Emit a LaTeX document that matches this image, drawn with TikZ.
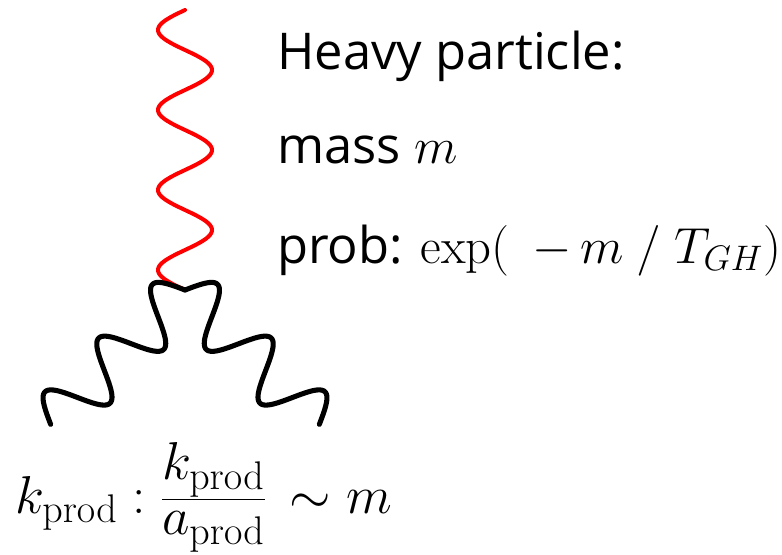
\RequirePackage{fix-cm}
\documentclass[tikz,border=0pt]{standalone}
\usepackage[no-math]{fontspec}
\setmainfont{Open Sans}
\DeclareMathSizes{40}{40}{30}{22}
\begin{document}
\begin{tikzpicture}[x=0.75pt, y=-0.75pt,
    heavy/.style={red, line width=3pt, line cap=round},
    light/.style={black, line width=3.8pt, line cap=round, line join=round},
    txt/.style={anchor=base west, inner sep=0pt, font=\fontsize{38}{46}\selectfont}]
            \useasboundingbox (0,0) rectangle (782,554);

            % Vertice donde se unen las lineas
            \coordinate (vtx) at (185,290);

            % Particula pesada (onda roja)
            \draw[heavy, shift={(vtx)}] plot[domain=0:280, samples=200] ({-27*sin(4.5*\x)}, {\x-280});

            % Particulas producidas (ondas negras)
            \draw[light, shift={(vtx)}] plot[domain=0:190, samples=160]
                ({(-\x-27*sin(4.7368*\x))/sqrt(2)}, {(\x-27*sin(4.7368*\x))/sqrt(2)});
            \draw[light, shift={(vtx)}] plot[domain=0:190, samples=160]
                ({(\x+27*sin(4.7368*\x))/sqrt(2)}, {(\x-27*sin(4.7368*\x))/sqrt(2)});

            % Textos
            \node[txt] (heavy) at (277,69) {Heavy particle:};
            \node[txt] (mass) at (277,163) {mass $m$};
            \node[txt] (prob) at (277,263) {prob: $\exp(\;\,-\,m\ /\ T_{GH})$};
            \node[txt, font=\fontsize{40}{48}\selectfont] (kprod) at (15,513)
                {$\displaystyle k_{\mathrm{prod}}:\frac{\raisebox{-2pt}{$\displaystyle k_{\mathrm{prod}}$}}{\raisebox{11pt}{$\displaystyle a_{\mathrm{prod}}$}}\,\sim m$};
        \end{tikzpicture}
\end{document}
